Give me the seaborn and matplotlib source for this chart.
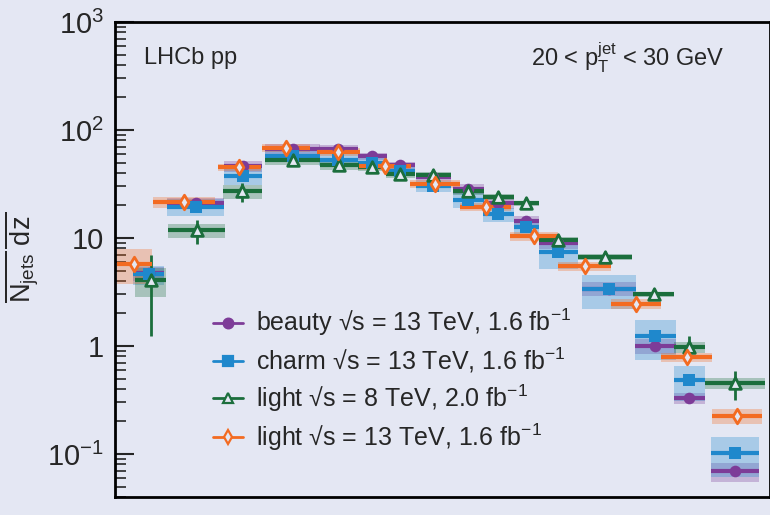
import numpy as np
import matplotlib
matplotlib.use("Agg")
import matplotlib.pyplot as plt
import seaborn as sns
import pandas as pd
from matplotlib.lines import Line2D

sns.set_theme(style="white")
plt.rcParams['font.family'] = ['Liberation Sans', 'DejaVu Sans']
plt.rcParams['mathtext.fontset'] = 'custom'
plt.rcParams['mathtext.rm'] = 'Liberation Sans'
plt.rcParams['mathtext.it'] = 'Liberation Sans'

BG = '#e4e7f3'

# z-bin centres (arbitrary z units), half widths, values, relative syst.
beauty_x = [150, 198, 247, 298, 345, 380, 409, 443, 479, 510, 539, 572, 624, 672, 707, 754]
beauty_hw = [16, 29, 20, 28, 20, 15, 15, 18, 16, 16, 13, 20, 28, 21, 16, 25]
beauty_y = [4.7, 21, 46, 67, 66, 57, 47, 36.6, 28.5, 21, 14.3, 9.0, 3.4, 1.0, 0.33, 0.069]
beauty_rel = [0.15, 0.12, 0.12, 0.10, 0.10, 0.08, 0.08, 0.08, 0.10, 0.12, 0.12, 0.12, 0.15, 0.15, 0.12, 0.2]

charm_x = [150, 198, 247, 298, 345, 380, 409, 443, 479, 510, 539, 572, 624, 672, 707, 754]
charm_hw = [16, 29, 20, 28, 20, 15, 15, 18, 16, 16, 13, 20, 28, 21, 16, 25]
charm_y = [4.6, 19.4, 37.6, 57, 53, 50, 42, 30, 22.5, 16.6, 12.6, 7.4, 3.4, 1.24, 0.48, 0.102]
charm_rel = [0.2, 0.18, 0.18, 0.12, 0.12, 0.1, 0.1, 0.12, 0.15, 0.15, 0.18, 0.3, 0.35, 0.4, 0.35, 0.4]

light8_x = [152, 199, 246, 298, 346, 380, 409, 443, 479, 510, 539, 572, 620, 670, 707, 754]
light8_hw = [16, 29, 20, 28, 20, 15, 15, 18, 16, 16, 13, 20, 28, 21, 16, 31]
light8_y = [4.1, 11.8, 27, 52.6, 47, 45, 39, 38, 27, 24, 21, 9.6, 6.7, 3.0, 0.98, 0.45]
light8_err = [0.7, 0.25, 0.2, 0.08, 0.08, 0.06, 0.06, 0.06, 0.08, 0.08, 0.08, 0.1, 0.1, 0.1, 0.25, 0.3]
light8_rel = [0.3, 0.15, 0.15, 0.1, 0.1, 0.08, 0.08, 0.08, 0.08, 0.06, 0.05, 0.06, 0.06, 0.06, 0.12, 0.12]

light13_x = [135, 186, 243, 291, 345, 393, 445, 497, 547, 599, 652, 704, 756]
light13_hw = [18, 32, 22, 25, 22, 27, 26, 26, 25, 27, 26, 26, 26]
light13_y = [5.8, 21.5, 45, 68, 63, 46, 31.6, 19.4, 10.4, 5.5, 2.45, 0.79, 0.225]
light13_rel = [0.35, 0.12, 0.08, 0.08, 0.08, 0.08, 0.08, 0.08, 0.1, 0.1, 0.1, 0.1, 0.15]

labels = ["beauty \u221as = 13 TeV, 1.6 fb$^{-1}$",
          "charm \u221as = 13 TeV, 1.6 fb$^{-1}$",
          "light \u221as = 8 TeV, 2.0 fb$^{-1}$",
          "light \u221as = 13 TeV, 1.6 fb$^{-1}$"]
colors = ['#7d3c98', '#1f88cc', '#1b6e3c', '#f36b21']
markers = ['o', 's', '^', 'd']
series = [(beauty_x, beauty_hw, beauty_y, beauty_rel, None),
          (charm_x, charm_hw, charm_y, charm_rel, None),
          (light8_x, light8_hw, light8_y, light8_rel, light8_err),
          (light13_x, light13_hw, light13_y, light13_rel, None)]

fig = plt.figure(figsize=(7.7, 5.15), dpi=100, facecolor=BG)
ax = fig.add_axes([115/770, 18/515, 1 - 115/770, 475/515])
ax.set_facecolor(BG)
ax.set_yscale('log')
ax.set_ylim(10**(3 - 475/108), 1e3)
ax.set_xlim(115, 790)

for i, ((xs, hw, ys, rel, err), c, m) in enumerate(zip(series, colors, markers)):
    xs = np.array(xs, float); hw = np.array(hw, float); ys = np.array(ys, float); rel = np.array(rel)
    for x, h, y, r in zip(xs, hw, ys, rel):
        ax.fill_between([x - h, x + h], y * (1 - r), y * (1 + r), color=c, alpha=0.3, lw=0, zorder=1 + i)
    ax.hlines(ys, xs - hw, xs + hw, color=c, lw=3, zorder=5 + i)
    if err is not None:
        e = np.array(err)
        ax.vlines(xs, ys * (1 - e), ys * (1 + e), color=c, lw=2, zorder=5 + i)
    df = pd.DataFrame({'x': xs, 'y': ys})
    filled = i < 2
    sns.scatterplot(data=df, x='x', y='y', ax=ax, marker=m, s=70 if i != 3 else 55,
                    color=c if filled else BG, edgecolor=c, linewidth=2 if not filled else 0,
                    zorder=10 + i, legend=False)

ax.set_xlabel('')
ax.set_ylabel('')
ax.set_xticks([])
ax.set_yticks([1e-1, 1, 10, 1e2, 1e3])
ax.set_yticklabels(['10$^{-1}$', '1', '10', '10$^{2}$', '10$^{3}$'])
ax.tick_params(axis='y', which='major', labelsize=21, length=14, width=1.5, direction='in', left=True, pad=8)
ax.tick_params(axis='y', which='minor', length=8, width=1.2, direction='in', left=True)
ax.yaxis.set_minor_locator(matplotlib.ticker.LogLocator(subs=np.arange(2, 10)))
ax.yaxis.set_minor_formatter(matplotlib.ticker.NullFormatter())
for s in ax.spines.values():
    s.set_color('black'); s.set_linewidth(2)

ax.text(0.045, 0.925, 'LHCb pp', transform=ax.transAxes, fontsize=17, va='center')
ax.text(0.635, 0.925, r'20 < p$_{\rm T}^{\rm jet}$ < 30 GeV', transform=ax.transAxes, fontsize=17, va='center')

fig.text(0.012, 0.5, r'$\frac{1}{N_{\rm jets}}\frac{dN}{dz}$', rotation=90, fontsize=28, va='center', ha='center')

handles = [Line2D([0], [0], color=c, marker=m, lw=2, markersize=7,
                  markerfacecolor=(c if i < 2 else BG), markeredgewidth=1.6)
           for i, (c, m) in enumerate(zip(colors, markers))]
ax.legend(handles, labels, loc='upper left', bbox_to_anchor=(0.15, 0.40), frameon=False,
          fontsize=18, handlelength=1.2, labelspacing=0.3, handletextpad=0.5,
          borderpad=0, borderaxespad=0)

fig.savefig('out.png', dpi=100, facecolor=BG)
